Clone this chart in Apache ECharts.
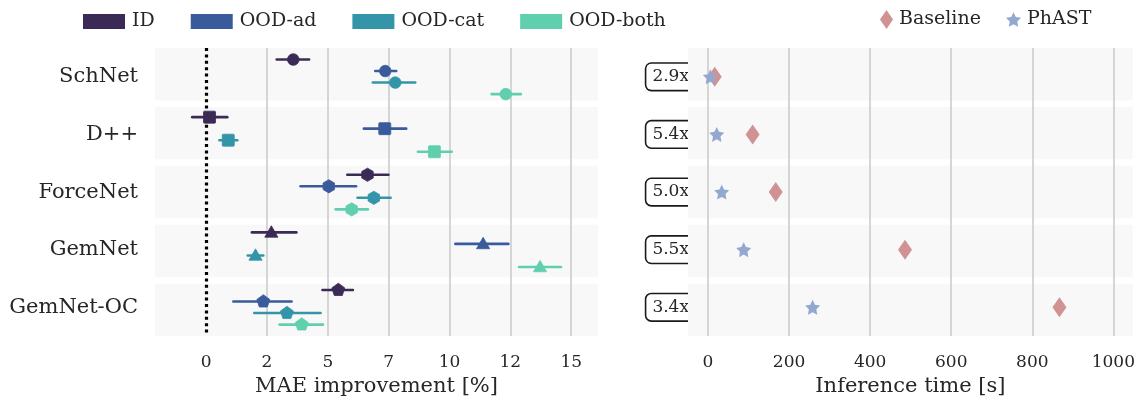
<!DOCTYPE html>
<html>
<head>
<meta charset="utf-8">
<script src="https://cdn.jsdelivr.net/npm/echarts@6/dist/echarts.min.js"></script>
<style>html,body{margin:0;padding:0;background:#fff}#c{width:1138px;height:402px}</style>
</head>
<body>
<div id="c"></div>
<script>
// ---------- data ----------
const models = ['SchNet', 'D++', 'ForceNet', 'GemNet', 'GemNet-OC'];
const groups = ['ID', 'OOD-ad', 'OOD-cat', 'OOD-both'];

const idMean = [3.58, 0.14, 6.63, 2.68, 5.43];
const idLo   = [2.90, -0.57, 5.80, 1.88, 4.78];
const idHi   = [4.23, 0.87, 7.49, 3.71, 6.03];

const adMean = [7.36, 7.34, 5.04, 11.38, 2.35];
const adLo   = [6.95, 6.48, 3.88, 10.24, 1.12];
const adHi   = [7.81, 8.22, 6.16, 12.42, 3.51];

const catMean = [7.77, 0.91, 6.89, 2.03, 3.32];
const catLo   = [6.85, 0.55, 6.22, 1.71, 1.98];
const catHi   = [8.59, 1.28, 7.58, 2.35, 4.70];

const bothMean = [12.31, 9.38, 5.98, 13.72, 3.93];
const bothLo   = [11.73, 8.70, 5.32, 12.86, 3.02];
const bothHi   = [12.93, 10.09, 6.65, 14.58, 4.80];

const baselineTime = [16.5, 110, 167, 486, 867];
const phastTime    = [5.7, 21.5, 33.8, 88, 258];
const speedupLabels = ['2.9x', '5.4x', '5.0x', '5.5x', '3.4x'];

const maeTicks  = [0, 2.5, 5, 7.5, 10, 12.5, 15];
const timeTicks = [0, 200, 400, 600, 800, 1000];

// ---------- style ----------
const FONT = 'DejaVu Serif';
const TXT = '#262626';
const groupColors = ['#3b2a56', '#3a5b9b', '#3495a8', '#5fcfad'];
const markerKinds = ['circle', 'square', 'hexagon', 'triangle', 'pentagon'];

const groupData = [
  [idMean, idLo, idHi],
  [adMean, adLo, adHi],
  [catMean, catLo, catHi],
  [bothMean, bothLo, bothHi]
];

function polyPts(cx, cy, r, n, rot) {
  const pts = [];
  for (let k = 0; k < n; k++) {
    const a = rot + k * 2 * Math.PI / n;
    pts.push([cx + r * Math.cos(a), cy + r * Math.sin(a)]);
  }
  return pts;
}

function markerShape(kind, x, y, color) {
  const style = { fill: color, stroke: color, lineWidth: 0.8 };
  if (kind === 'circle') return { type: 'circle', shape: { cx: x, cy: y, r: 5.8 }, style };
  if (kind === 'square') return { type: 'rect', shape: { x: x - 6, y: y - 6, width: 12, height: 12, r: 1 }, style };
  if (kind === 'hexagon') return { type: 'polygon', shape: { points: polyPts(x, y, 6.6, 6, -Math.PI / 2) }, style };
  if (kind === 'triangle') return { type: 'polygon', shape: { points: polyPts(x, y + 1, 7.6, 3, -Math.PI / 2) }, style };
  return { type: 'polygon', shape: { points: polyPts(x, y, 6.8, 5, -Math.PI / 2) }, style };
}

function bandSeries(xi, yi) {
  return {
    type: 'custom', xAxisIndex: xi, yAxisIndex: yi, z: 1, silent: true,
    data: models.map((m, i) => [i]),
    encode: { y: 0 },
    renderItem: function (params, api) {
      const cs = params.coordSys;
      const n = models.length, gap = 6.5;
      const period = (cs.height + gap) / n;
      const i = api.value(0);
      return {
        type: 'rect',
        shape: { x: cs.x, y: cs.y + i * period, width: cs.width, height: period - gap },
        style: { fill: '#f8f8f8' }
      };
    }
  };
}

const series = [];
series.push(bandSeries(0, 0));
series.push(bandSeries(1, 1));

// grid lines (left) + zero line
series.push({
  type: 'scatter', xAxisIndex: 0, yAxisIndex: 0, data: [], silent: true,
  markLine: {
    silent: true, symbol: 'none', label: { show: false }, z: 3, animation: false,
    lineStyle: { color: '#cccccc', width: 1.6, type: 'solid' },
    data: maeTicks.filter(v => v !== 0).map(v => ({ xAxis: v }))
  }
});
series.push({
  type: 'scatter', xAxisIndex: 0, yAxisIndex: 0, data: [], silent: true, z: 4,
  markLine: {
    silent: true, symbol: 'none', label: { show: false }, z: 4, animation: false,
    lineStyle: { color: '#000000', width: 3.2, type: [3, 3.4] },
    data: [{ xAxis: 0 }]
  }
});
// grid lines (right)
series.push({
  type: 'scatter', xAxisIndex: 1, yAxisIndex: 1, data: [], silent: true,
  markLine: {
    silent: true, symbol: 'none', label: { show: false }, z: 3, animation: false,
    lineStyle: { color: '#cccccc', width: 1.6, type: 'solid' },
    data: timeTicks.map(v => ({ xAxis: v }))
  }
});

groups.forEach((g, gi) => {
  const [mean, lo, hi] = groupData[gi];
  const color = groupColors[gi];
  series.push({
    name: g, type: 'custom', xAxisIndex: 0, yAxisIndex: 0, z: 10,
    itemStyle: { color: color },
    data: models.map((m, i) => [mean[i], i, lo[i], hi[i]]),
    encode: { x: [0, 2, 3], y: 1 },
    renderItem: function (params, api) {
      const cat = api.value(1);
      const c = api.coord([api.value(0), cat]);
      const cl = api.coord([api.value(2), cat]);
      const ch = api.coord([api.value(3), cat]);
      const band = api.size([0, 1])[1];
      const dy = (gi - 1.5) * band * 0.2;
      const y = c[1] + dy;
      return {
        type: 'group',
        children: [
          { type: 'line', shape: { x1: cl[0], y1: y, x2: ch[0], y2: y },
            style: { stroke: color, lineWidth: 2.6, lineCap: 'round' } },
          markerShape(markerKinds[cat], c[0], y, color)
        ]
      };
    }
  });
});

const starPath = 'path://M50,2 L64.7,31.8 L97.6,36.5 L73.8,59.7 L79.4,92.5 L50,77 L20.6,92.5 L26.2,59.7 L2.4,36.5 L35.3,31.8 Z';

series.push({
  name: 'Baseline', type: 'scatter', xAxisIndex: 1, yAxisIndex: 1, z: 10,
  symbol: 'diamond', symbolSize: [14, 20],
  itemStyle: { color: '#d09292', opacity: 1 },
  data: baselineTime.map((v, i) => [v, i])
});
series.push({
  name: 'PhAST', type: 'scatter', xAxisIndex: 1, yAxisIndex: 1, z: 11,
  symbol: starPath, symbolSize: 15,
  itemStyle: { color: '#93a8cf', opacity: 1 },
  data: phastTime.map((v, i) => [v, i])
});

const option = {
  animation: false,
  backgroundColor: '#ffffff',
  textStyle: { fontFamily: FONT, color: TXT },
  legend: [
    {
      data: groups, left: 78, top: 7, icon: 'rect', itemWidth: 42, itemHeight: 15, itemGap: 36,
      textStyle: { fontFamily: FONT, fontSize: 19, color: TXT, padding: [0, 0, 0, 2] }
    },
    {
      data: ['Baseline'], left: 875, top: 5, itemWidth: 13, itemHeight: 19, itemGap: 0,
      textStyle: { fontFamily: FONT, fontSize: 19, color: TXT, padding: [0, 0, 0, 1] }
    },
    {
      data: ['PhAST'], left: 1001, top: 5, itemWidth: 15, itemHeight: 15, itemGap: 0,
      textStyle: { fontFamily: FONT, fontSize: 19, color: TXT, padding: [0, 0, 0, 1] }
    }
  ],
  grid: [
    { left: 155, right: 540, top: 48, bottom: 62 },
    { left: 688, right: 5, top: 48, bottom: 62 }
  ],
  xAxis: [
    {
      gridIndex: 0, type: 'value', min: -2.1, max: 16.1,
      axisLine: { show: false }, axisTick: { show: false }, splitLine: { show: false },
      axisLabel: { customValues: maeTicks, formatter: v => String(Math.trunc(v)),
        fontFamily: FONT, fontSize: 17, color: TXT, margin: 18 },
      name: 'MAE improvement [%]', nameLocation: 'middle', nameGap: 39,
      nameTextStyle: { fontFamily: FONT, fontSize: 21, color: TXT }
    },
    {
      gridIndex: 1, type: 'value', min: -49.4, max: 1048,
      axisLine: { show: false }, axisTick: { show: false }, splitLine: { show: false },
      axisLabel: { customValues: timeTicks, formatter: v => String(v),
        fontFamily: FONT, fontSize: 17, color: TXT, margin: 18 },
      name: 'Inference time [s]', nameLocation: 'middle', nameGap: 39,
      nameTextStyle: { fontFamily: FONT, fontSize: 21, color: TXT }
    }
  ],
  yAxis: [
    {
      gridIndex: 0, type: 'category', data: models, inverse: true,
      axisLine: { show: false }, axisTick: { show: false }, splitLine: { show: false },
      axisLabel: { fontFamily: FONT, fontSize: 21, color: TXT, margin: 17 }
    },
    {
      gridIndex: 1, type: 'category', data: speedupLabels, inverse: true,
      axisLine: { show: false }, axisTick: { show: false }, splitLine: { show: false },
      axisLabel: { fontFamily: FONT, fontSize: 17, color: TXT, margin: -7,
        backgroundColor: '#ffffff', borderColor: '#1a1a1a', borderWidth: 1.6, borderRadius: 5,
        padding: [5, 6, 4, 6] }
    }
  ],
  series: series
};

const chart = echarts.init(document.getElementById('c'), null, { renderer: 'canvas' });
chart.setOption(option);
</script>
</body>
</html>
